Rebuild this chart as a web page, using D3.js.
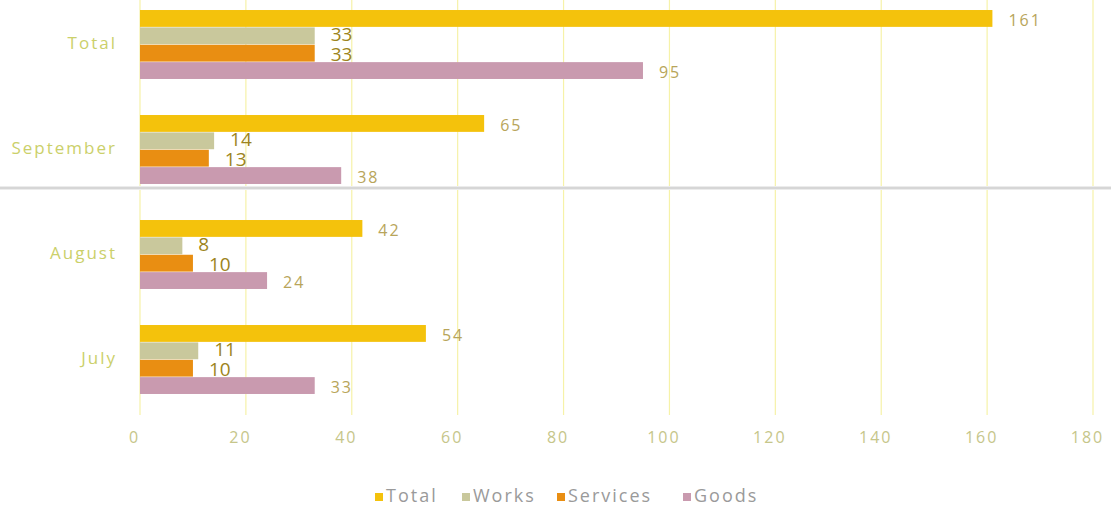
<!DOCTYPE html>
<html><head><meta charset="utf-8">
<script src="https://cdn.jsdelivr.net/npm/d3@7"></script>
<style>body{margin:0;background:#fff}svg{display:block}text{font-family:"Open Sans",Lato,sans-serif}</style>
</head><body><div id="chart"></div>
<script>
const categories = ["Total","September","August","July"];
const seriesNames = ["Total","Works","Services","Goods"];
const totalVals = [161,65,42,54];
const worksVals = [33,14,8,11];
const servicesVals = [33,13,10,10];
const goodsVals = [95,38,24,33];
const xTicks = [0,20,40,60,80,100,120,140,160,180];
const colors = ["#F4C20C","#C9C89C","#E98E12","#C99AAF"];

const W=1111,H=509;
const svg=d3.select("#chart").append("svg").attr("width",W).attr("height",H);
const seriesVals=[totalVals,worksVals,servicesVals,goodsVals];

const x=d3.scaleLinear().domain([0,180]).range([140,1093]);
const y=d3.scaleBand().domain(categories).range([-8,412]).paddingInner(1/3).paddingOuter(1/6);
const ys=d3.scaleBand().domain(seriesNames).range([0,y.bandwidth()]).padding(0.03);

// gridlines
svg.append("g").selectAll("line").data(xTicks).join("line")
 .attr("x1",d=>x(d)).attr("x2",d=>x(d)).attr("y1",0).attr("y2",415)
 .attr("stroke","#F6F2A8").attr("stroke-width",1.2);

// scan fold line
svg.append("rect").attr("x",0).attr("y",186).attr("width",W).attr("height",4).attr("fill","#ececec");
svg.append("line").attr("x1",0).attr("x2",W).attr("y1",188).attr("y2",188).attr("stroke","#cfcfcf").attr("stroke-width",1.5);

// bars
const groups=svg.append("g").selectAll("g").data(categories).join("g")
 .attr("transform",d=>`translate(0,${y(d)})`);
seriesNames.forEach((s,si)=>{
  groups.append("rect")
   .attr("x",x(0)).attr("y",ys(s))
   .attr("width",(d,i)=>x(seriesVals[si][i])-x(0))
   .attr("height",ys.bandwidth())
   .attr("fill",colors[si]);
  const big = si===1||si===2;
  groups.append("text")
   .attr("x",(d,i)=>x(seriesVals[si][i])+16)
   .attr("y",ys(s)+ys.bandwidth()/2+(big?(si===1?0:3):3))
   .attr("dominant-baseline","middle")
   .attr("font-size",big?19:16)
   .attr("letter-spacing",big?0:2)
   .attr("fill",big?"#9C8420":"#B8A55A")
   .text((d,i)=>seriesVals[si][i]);
});

// category labels
svg.append("g").selectAll("text").data(categories).join("text")
 .attr("x",117).attr("y",d=>y(d)+y.bandwidth()/2)
 .attr("text-anchor","end").attr("dominant-baseline","middle")
 .attr("font-size",17).attr("letter-spacing",2).attr("fill","#CBD06A").text(d=>d);

// x axis labels
const xa=svg.append("g").attr("transform","translate(-6,441)")
 .call(d3.axisBottom(x).tickValues(xTicks).tickSize(0).tickPadding(0));
xa.select(".domain").remove();
xa.selectAll("text").attr("font-size",16).attr("letter-spacing",2).attr("fill","#C6C68A").attr("dy","0.1em");

// legend
const legX=[375,462,557,683];
const leg=svg.append("g").selectAll("g").data(seriesNames).join("g")
 .attr("transform",(d,i)=>`translate(${legX[i]},497)`);
leg.append("rect").attr("x",0).attr("y",-4).attr("width",8).attr("height",8).attr("fill",(d,i)=>colors[i]);
leg.append("text").attr("x",11).attr("y",0).attr("dominant-baseline","middle")
 .attr("font-size",18).attr("letter-spacing",2).attr("fill","#9A9A9A").text(d=>d);
</script></body></html>
